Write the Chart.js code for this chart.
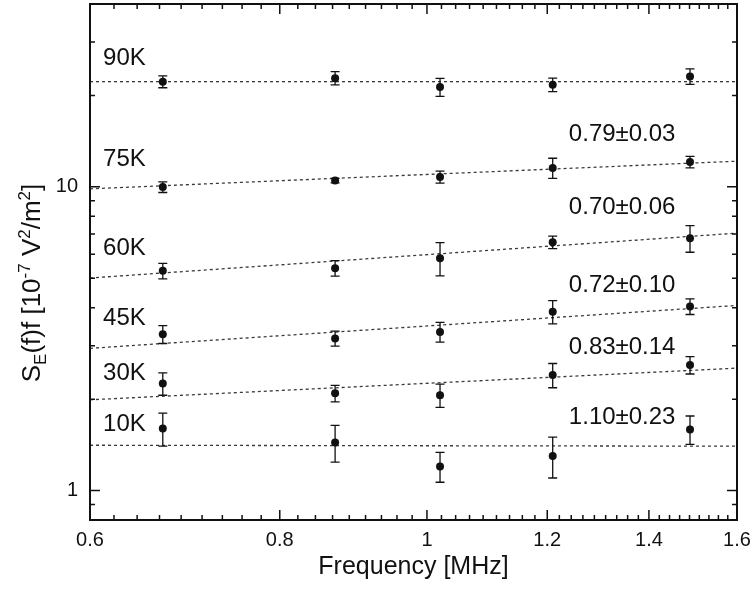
<!DOCTYPE html>
<html>
<head>
<meta charset="utf-8">
<script src="https://cdn.jsdelivr.net/npm/chart.js@4.4.1/dist/chart.umd.min.js"></script>
<style>
  html, body { margin: 0; padding: 0; background: #fff; }
  #wrap { width: 752px; height: 595px; }
</style>
</head>
<body>
<div id="wrap"><canvas id="chart"></canvas></div>
<script>
const freqs = [0.67, 0.87, 1.02, 1.21, 1.49];

const s90K = [22.2, 22.8, 21.3, 21.7, 23.1];
const e90K = [1.0, 1.15, 1.45, 1.1, 1.35];
const s75K = [9.98, 10.49, 10.78, 11.54, 12.07];
const e75K = [0.40, 0.18, 0.49, 0.88, 0.52];
const s60K = [5.29, 5.40, 5.82, 6.57, 6.77];
const e60K = [0.31, 0.32, 0.73, 0.31, 0.68];
const s45K = [3.27, 3.17, 3.33, 3.88, 4.04];
const e45K = [0.22, 0.18, 0.25, 0.34, 0.24];
const s30K = [2.25, 2.09, 2.06, 2.40, 2.59];
const e30K = [0.19, 0.13, 0.18, 0.22, 0.17];
const s10K = [1.60, 1.44, 1.20, 1.30, 1.59];
const e10K = [0.20, 0.20, 0.135, 0.20, 0.17];

// dashed power-law fits, values at the two ends of the x range
const fitEnds = [0.6, 1.6];
const fit90K = [22.2, 22.2];
const fit75K = [9.85, 12.15];
const fit60K = [5.01, 7.04];
const fit45K = [2.94, 4.07];
const fit30K = [1.99, 2.53];
const fit10K = [1.41, 1.40];

const tempLabels = ['90K', '75K', '60K', '45K', '30K', '10K'];
const slopeLabels = ['0.79±0.03', '0.70±0.06', '0.72±0.10', '0.83±0.14', '1.10±0.23'];

const xTicks = [0.6, 0.8, 1, 1.2, 1.4, 1.6];
const yTicks = [1, 10];
const yMinorTicks = [0.9, 2, 3, 4, 5, 6, 7, 8, 9, 20, 30];

const FONT = "'Liberation Sans', Arial, Helvetica, sans-serif";

const series = [
  { vals: s90K, errs: e90K, fit: fit90K },
  { vals: s75K, errs: e75K, fit: fit75K },
  { vals: s60K, errs: e60K, fit: fit60K },
  { vals: s45K, errs: e45K, fit: fit45K },
  { vals: s30K, errs: e30K, fit: fit30K },
  { vals: s10K, errs: e10K, fit: fit10K }
];

const errMap = {};
const datasets = [];
series.forEach((s, k) => {
  errMap[datasets.length] = s.errs;
  datasets.push({
    label: tempLabels[k],
    data: freqs.map((f, i) => ({ x: f, y: s.vals[i] })),
    showLine: false,
    pointRadius: 4,
    pointHoverRadius: 4,
    pointBorderWidth: 0,
    backgroundColor: '#111',
    borderColor: '#111'
  });
  datasets.push({
    label: tempLabels[k] + ' fit',
    data: fitEnds.map((f, i) => ({ x: f, y: s.fit[i] })),
    showLine: true,
    pointRadius: 0,
    borderColor: '#3a3a3a',
    borderWidth: 1.3,
    borderDash: [3, 3]
  });
});

// x minor ticks: 8 per major interval, evenly spaced in value
function xMinorTicks() {
  const out = [];
  for (let i = 0; i < xTicks.length - 1; i++) {
    const a = xTicks[i], b = xTicks[i + 1];
    for (let k = 1; k <= 8; k++) out.push(a + (b - a) * k / 9);
  }
  return out;
}

const framePlugin = {
  id: 'frame',
  afterDatasetsDraw(chart) {
    const { ctx, scales: { x, y } } = chart;
    ctx.save();
    ctx.strokeStyle = '#111';
    ctx.lineWidth = 1.3;
    Object.keys(errMap).forEach((idx) => {
      const ds = chart.data.datasets[idx];
      const errs = errMap[idx];
      ds.data.forEach((p, i) => {
        const px = x.getPixelForValue(p.x);
        const top = y.getPixelForValue(p.y + errs[i]);
        const bot = y.getPixelForValue(p.y - errs[i]);
        ctx.beginPath();
        ctx.moveTo(px, top); ctx.lineTo(px, bot);
        ctx.moveTo(px - 4.5, top); ctx.lineTo(px + 4.5, top);
        ctx.moveTo(px - 4.5, bot); ctx.lineTo(px + 4.5, bot);
        ctx.stroke();
      });
    });
    ctx.restore();
  },
  afterDraw(chart) {
    const { ctx, chartArea: a, scales: { x, y } } = chart;
    ctx.save();
    ctx.strokeStyle = '#111';
    // inward ticks on all four sides
    ctx.lineWidth = 1.5;
    const tick = (vals, len, isX) => {
      vals.forEach((v) => {
        ctx.beginPath();
        if (isX) {
          const px = x.getPixelForValue(v);
          ctx.moveTo(px, a.bottom); ctx.lineTo(px, a.bottom - len);
          ctx.moveTo(px, a.top); ctx.lineTo(px, a.top + len);
        } else {
          const py = y.getPixelForValue(v);
          ctx.moveTo(a.left, py); ctx.lineTo(a.left + len, py);
          ctx.moveTo(a.right, py); ctx.lineTo(a.right - len, py);
        }
        ctx.stroke();
      });
    };
    tick(xTicks, 10, true);
    tick(xMinorTicks(), 5, true);
    tick(yTicks, 10, false);
    tick(yMinorTicks, 5, false);
    ctx.lineWidth = 2;
    ctx.strokeRect(a.left, a.top, a.right - a.left, a.bottom - a.top);

    // in-plot labels
    ctx.fillStyle = '#111';
    ctx.font = '24px ' + FONT;
    ctx.textBaseline = 'alphabetic';
    ctx.textAlign = 'left';
    const tempAt = [25.2, 11.73, 5.97, 3.51, 2.31, 1.57];
    tempLabels.forEach((t, i) => ctx.fillText(t, x.getPixelForValue(0.612), y.getPixelForValue(tempAt[i])));
    const slopeAt = [14.18, 8.15, 4.51, 2.82, 1.66];
    slopeLabels.forEach((t, i) => ctx.fillText(t, x.getPixelForValue(1.24), y.getPixelForValue(slopeAt[i])));

    // y axis title with sub/superscripts
    const parts = [
      ['S', 0, 26], ['E', 6, 17], ['(f)f [10', 0, 26], ['-7', -10, 17],
      [' V', 0, 26], ['2', -10, 17], ['/m', 0, 26], ['2', -10, 17], [']', 0, 26]
    ];
    let total = 0;
    parts.forEach((p) => { ctx.font = p[2] + 'px ' + FONT; total += ctx.measureText(p[0]).width; });
    ctx.translate(31, 283);
    ctx.rotate(-Math.PI / 2);
    let cx = -total / 2;
    parts.forEach((p) => {
      ctx.font = p[2] + 'px ' + FONT;
      ctx.fillText(p[0], cx, 9 + p[1]);
      cx += ctx.measureText(p[0]).width;
    });
    ctx.restore();
  }
};

new Chart(document.getElementById('chart'), {
  type: 'scatter',
  data: { datasets },
  plugins: [framePlugin],
  options: {
    responsive: true,
    maintainAspectRatio: false,
    animation: false,
    layout: { padding: { left: 0, right: 15, top: 4, bottom: 0 } },
    plugins: { legend: { display: false }, tooltip: { enabled: false } },
    scales: {
      x: {
        type: 'logarithmic',
        min: 0.6,
        max: 1.6,
        afterBuildTicks: (s) => { s.ticks = xTicks.map((v) => ({ value: v })); },
        afterFit: (s) => { s.height = 75; s.paddingLeft = 0; s.paddingRight = 0; },
        grid: { display: false, drawTicks: false },
        border: { display: false },
        ticks: {
          padding: 8,
          color: '#111',
          font: { family: FONT, size: 20 },
          maxRotation: 0,
          autoSkip: false,
          callback: (v) => String(v)
        },
        title: {
          display: true,
          text: 'Frequency [MHz]',
          color: '#111',
          font: { family: FONT, size: 25 },
          padding: { top: 0, bottom: 13 }
        }
      },
      y: {
        type: 'logarithmic',
        min: 0.8,
        max: 40,
        afterBuildTicks: (s) => { s.ticks = yTicks.map((v) => ({ value: v })); },
        afterFit: (s) => { s.width = 90; s.paddingTop = 0; s.paddingBottom = 0; },
        grid: { display: false, drawTicks: false },
        border: { display: false },
        ticks: {
          padding: 12,
          color: '#111',
          font: { family: FONT, size: 20 },
          autoSkip: false,
          callback: (v) => String(v)
        }
      }
    }
  }
});
</script>
</body>
</html>
